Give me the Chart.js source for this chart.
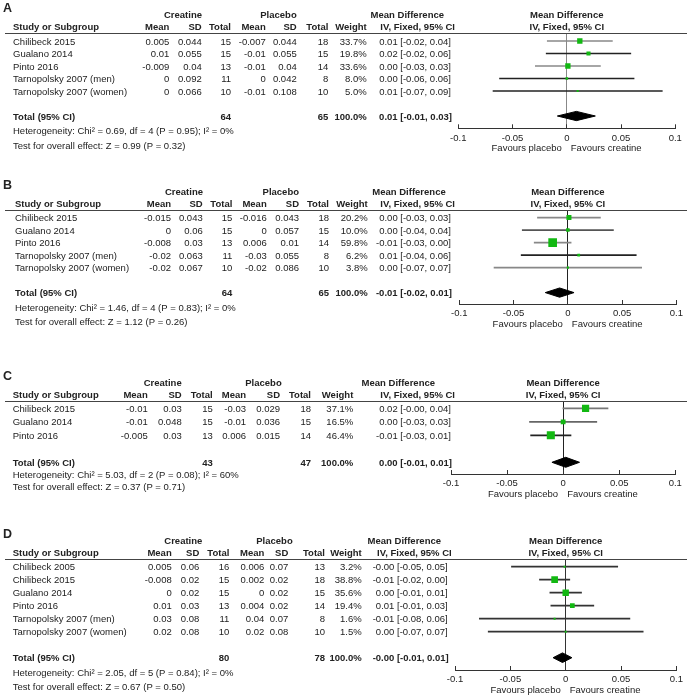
<!DOCTYPE html>
<html>
<head>
<meta charset="utf-8">
<script src="https://cdn.jsdelivr.net/npm/chart.js@4.4.1/dist/chart.umd.min.js"></script>
<style>
    html, body { margin: 0; padding: 0; background: #fff; }
    #page { position: relative; width: 691px; height: 699px; overflow: hidden; background: #fff; }
    #page canvas { position: absolute; left: 0; }
</style>
</head>
<body>
<div id="page">
    <canvas id="panelA"></canvas>
    <canvas id="panelB"></canvas>
    <canvas id="panelC"></canvas>
    <canvas id="panelD"></canvas>
</div>
<script>
// ---- axis ----
const tickValues = [-0.1, -0.05, 0, 0.05, 0.1];
const tickLabels = ['-0.1', '-0.05', '0', '0.05', '0.1'];

// ---- panel A ----
const studiesA = ['Chilibeck 2015', 'Gualano 2014', 'Pinto 2016', 'Tarnopolsky 2007 (men)', 'Tarnopolsky 2007 (women)'];
const creMeanA = [0.005, 0.01, -0.009, 0, 0];
const creSdA = [0.044, 0.055, 0.04, 0.092, 0.066];
const creNA = [15, 15, 13, 11, 10];
const plMeanA = [-0.007, -0.01, -0.01, 0, -0.01];
const plSdA = [0.044, 0.055, 0.04, 0.042, 0.108];
const plNA = [18, 15, 14, 8, 10];
const weightA = [33.7, 19.8, 33.6, 8.0, 5.0];
const ciTextA = ['0.01 [-0.02, 0.04]', '0.02 [-0.02, 0.06]', '0.00 [-0.03, 0.03]', '0.00 [-0.06, 0.06]', '0.01 [-0.07, 0.09]'];
const mdA = [0.012, 0.02, 0.001, 0, 0.01];
const mdLowA = [-0.018, -0.019, -0.029, -0.062, -0.068];
const mdHighA = [0.042, 0.059, 0.031, 0.062, 0.088];
const totalNA = [64, 65];
const totalMdA = [0.0088, -0.0087, 0.0263];   // estimate, low, high
const totalTextA = '0.01 [-0.01, 0.03]';
const heteroA = 'Heterogeneity: Chi² = 0.69, df = 4 (P = 0.95); I² = 0%';
const overallA = 'Test for overall effect: Z = 0.99 (P = 0.32)';

// ---- panel B ----
const studiesB = ['Chilibeck 2015', 'Gualano 2014', 'Pinto 2016', 'Tarnopolsky 2007 (men)', 'Tarnopolsky 2007 (women)'];
const creMeanB = [-0.015, 0, -0.008, -0.02, -0.02];
const creSdB = [0.043, 0.06, 0.03, 0.063, 0.067];
const creNB = [15, 15, 13, 11, 10];
const plMeanB = [-0.016, 0, 0.006, -0.03, -0.02];
const plSdB = [0.043, 0.057, 0.01, 0.055, 0.086];
const plNB = [18, 15, 14, 8, 10];
const weightB = [20.2, 10.0, 59.8, 6.2, 3.8];
const ciTextB = ['0.00 [-0.03, 0.03]', '0.00 [-0.04, 0.04]', '-0.01 [-0.03, 0.00]', '0.01 [-0.04, 0.06]', '0.00 [-0.07, 0.07]'];
const mdB = [0.001, 0, -0.014, 0.01, 0];
const mdLowB = [-0.028, -0.042, -0.031, -0.043, -0.068];
const mdHighB = [0.030, 0.042, 0.003, 0.063, 0.068];
const totalNB = [64, 65];
const totalMdB = [-0.0076, -0.0208, 0.0057];
const totalTextB = '-0.01 [-0.02, 0.01]';
const heteroB = 'Heterogeneity: Chi² = 1.46, df = 4 (P = 0.83); I² = 0%';
const overallB = 'Test for overall effect: Z = 1.12 (P = 0.26)';

// ---- panel C ----
const studiesC = ['Chilibeck 2015', 'Gualano 2014', 'Pinto 2016'];
const creMeanC = [-0.01, -0.01, -0.005];
const creSdC = [0.03, 0.048, 0.03];
const creNC = [15, 15, 13];
const plMeanC = [-0.03, -0.01, 0.006];
const plSdC = [0.029, 0.036, 0.015];
const plNC = [18, 15, 14];
const weightC = [37.1, 16.5, 46.4];
const ciTextC = ['0.02 [-0.00, 0.04]', '0.00 [-0.03, 0.03]', '-0.01 [-0.03, 0.01]'];
const mdC = [0.02, 0, -0.011];
const mdLowC = [-0.0002, -0.030, -0.029];
const mdHighC = [0.040, 0.030, 0.007];
const totalNC = [43, 47];
const totalMdC = [0.0023, -0.0100, 0.0146];
const totalTextC = '0.00 [-0.01, 0.01]';
const heteroC = 'Heterogeneity: Chi² = 5.03, df = 2 (P = 0.08); I² = 60%';
const overallC = 'Test for overall effect: Z = 0.37 (P = 0.71)';

// ---- panel D ----
const studiesD = ['Chilibeck 2005', 'Chilibeck 2015', 'Gualano 2014', 'Pinto 2016', 'Tarnopolsky 2007 (men)', 'Tarnopolsky 2007 (women)'];
const creMeanD = [0.005, -0.008, 0, 0.01, 0.03, 0.02];
const creSdD = [0.06, 0.02, 0.02, 0.03, 0.08, 0.08];
const creND = [16, 15, 15, 13, 11, 10];
const plMeanD = [0.006, 0.002, 0, 0.004, 0.04, 0.02];
const plSdD = [0.07, 0.02, 0.02, 0.02, 0.07, 0.08];
const plND = [13, 18, 15, 14, 8, 10];
const weightD = [3.2, 38.8, 35.6, 19.4, 1.6, 1.5];
const ciTextD = ['-0.00 [-0.05, 0.05]', '-0.01 [-0.02, 0.00]', '0.00 [-0.01, 0.01]', '0.01 [-0.01, 0.03]', '-0.01 [-0.08, 0.06]', '0.00 [-0.07, 0.07]'];
const mdD = [-0.001, -0.01, 0, 0.006, -0.01, 0];
const mdLowD = [-0.049, -0.0237, -0.0143, -0.0134, -0.078, -0.070];
const mdHighD = [0.047, 0.0037, 0.0143, 0.0254, 0.058, 0.070];
const totalND = [80, 78];
const totalMdD = [-0.0029, -0.0114, 0.0056];
const totalTextD = '-0.00 [-0.01, 0.01]';
const heteroD = 'Heterogeneity: Chi² = 2.05, df = 5 (P = 0.84); I² = 0%';
const overallD = 'Test for overall effect: Z = 0.67 (P = 0.50)';

// ---- styles / layout ----
const FONT = "'Liberation Sans', Arial, sans-serif";
const TEXT = '#222';
const GREEN = '#12b812';
const AXIS_H = 22;
const DIAMOND_HALF = 0.37;

const panels = [
    {
        id: 'panelA', letter: 'A', top: 0, height: 160,
        left: 458.3, right: 675.3, underline: 33, axis: 128.3, row0: 41, rowH: 12.5,
        hetDy: 14, testDy: 29, sq: 0.92, zero: '#888',
        lineColors: ['#888', '#222', '#888', '#222', '#222'],
        cols: { study: 13, creMean: 169.3, creSd: 201.7, creN: 231, plMean: 265.7, plSd: 296.7, plN: 328.3, weight: 366.7, ci: 455, creHdr: 202, plHdr: 296.7, mdHdr: 444 },
        studies: studiesA, creMean: creMeanA, creSd: creSdA, creN: creNA, plMean: plMeanA, plSd: plSdA, plN: plNA,
        weight: weightA, ciText: ciTextA, md: mdA, lo: mdLowA, hi: mdHighA,
        totalN: totalNA, totalMd: totalMdA, totalText: totalTextA, hetero: heteroA, overall: overallA
    },
    {
        id: 'panelB', letter: 'B', top: 160, height: 180,
        left: 459.3, right: 678, underline: 210, axis: 304, row0: 217.6, rowH: 12.5,
        hetDy: 14.5, testDy: 28.5, sq: 1.12, zero: '#222',
        lineColors: ['#888', '#555', '#888', '#222', '#888'],
        cols: { study: 15, creMean: 171, creSd: 202.7, creN: 232.3, plMean: 266.7, plSd: 299, plN: 329, weight: 367.7, ci: 455, creHdr: 203, plHdr: 299, mdHdr: 445.7 },
        studies: studiesB, creMean: creMeanB, creSd: creSdB, creN: creNB, plMean: plMeanB, plSd: plSdB, plN: plNB,
        weight: weightB, ciText: ciTextB, md: mdB, lo: mdLowB, hi: mdHighB,
        totalN: totalNB, totalMd: totalMdB, totalText: totalTextB, hetero: heteroB, overall: overallB
    },
    {
        id: 'panelC', letter: 'C', top: 340, height: 160,
        left: 451, right: 675.3, underline: 401, axis: 474, row0: 408.3, rowH: 13.5,
        hetDy: 12, testDy: 24, sq: 1.18, zero: '#222',
        lineColors: ['#777', '#666', '#222'],
        cols: { study: 12.7, creMean: 147.7, creSd: 181.7, creN: 212.7, plMean: 246, plSd: 280, plN: 311, weight: 353.3, ci: 455, creHdr: 181.7, plHdr: 281.7, mdHdr: 435 },
        studies: studiesC, creMean: creMeanC, creSd: creSdC, creN: creNC, plMean: plMeanC, plSd: plSdC, plN: plNC,
        weight: weightC, ciText: ciTextC, md: mdC, lo: mdLowC, hi: mdHighC,
        totalN: totalNC, totalMd: totalMdC, totalText: totalTextC, hetero: heteroC, overall: overallC
    },
    {
        id: 'panelD', letter: 'D', top: 500, height: 199,
        left: 455, right: 680, underline: 559, axis: 670, row0: 566.7, rowH: 13,
        hetDy: 15, testDy: 28.5, sq: 1.07, zero: '#333',
        lineColors: ['#333', '#333', '#333', '#333', '#333', '#333'],
        cols: { study: 12.7, creMean: 171.7, creSd: 199.3, creN: 229.3, plMean: 264.3, plSd: 288.3, plN: 325, weight: 361.7, ci: 451.7, creHdr: 202.3, plHdr: 292.7, mdHdr: 441 },
        studies: studiesD, creMean: creMeanD, creSd: creSdD, creN: creND, plMean: plMeanD, plSd: plSdD, plN: plND,
        weight: weightD, ciText: ciTextD, md: mdD, lo: mdLowD, hi: mdHighD,
        totalN: totalND, totalMd: totalMdD, totalText: totalTextD, hetero: heteroD, overall: overallD
    }
];

function put(ctx, s, x, y, align, bold, size) {
    ctx.font = (bold ? 'bold ' : '') + (size || 9.5) + 'px ' + FONT;
    ctx.textAlign = align;
    ctx.fillText(s, x, y);
}

// table text drawn next to the forest plot
function tablePlugin(p) {
    return {
        id: 'forestTable',
        afterDraw(chart) {
            const ctx = chart.ctx;
            const xs = chart.scales.x, ys = chart.scales.y;
            const c = p.cols;
            const n = p.studies.length;
            const u = p.underline - p.top;
            ctx.save();
            ctx.fillStyle = TEXT;
            ctx.textBaseline = 'middle';

            put(ctx, p.letter, 3, u - 24.5, 'left', true, 12.5);

            const h1 = u - 18, h2 = u - 6;
            put(ctx, 'Creatine', c.creHdr, h1, 'right', true);
            put(ctx, 'Placebo', c.plHdr, h1, 'right', true);
            put(ctx, 'Mean Difference', c.mdHdr, h1, 'right', true);
            put(ctx, 'Study or Subgroup', c.study, h2, 'left', true);
            put(ctx, 'Mean', c.creMean, h2, 'right', true);
            put(ctx, 'SD', c.creSd, h2, 'right', true);
            put(ctx, 'Total', c.creN, h2, 'right', true);
            put(ctx, 'Mean', c.plMean, h2, 'right', true);
            put(ctx, 'SD', c.plSd, h2, 'right', true);
            put(ctx, 'Total', c.plN, h2, 'right', true);
            put(ctx, 'Weight', c.weight, h2, 'right', true);
            put(ctx, 'IV, Fixed, 95% CI', c.ci, h2, 'right', true);

            const x0 = xs.getPixelForValue(0);
            put(ctx, 'Mean Difference', x0, h1, 'center', true);
            put(ctx, 'IV, Fixed, 95% CI', x0, h2, 'center', true);

            ctx.strokeStyle = '#444';
            ctx.lineWidth = 1;
            ctx.beginPath();
            ctx.moveTo(5, Math.round(u) + 0.5);
            ctx.lineTo(687, Math.round(u) + 0.5);
            ctx.stroke();

            p.studies.forEach((s, i) => {
                const y = ys.getPixelForValue(i) + 1;
                put(ctx, s, c.study, y, 'left');
                put(ctx, String(p.creMean[i]), c.creMean, y, 'right');
                put(ctx, String(p.creSd[i]), c.creSd, y, 'right');
                put(ctx, String(p.creN[i]), c.creN, y, 'right');
                put(ctx, String(p.plMean[i]), c.plMean, y, 'right');
                put(ctx, String(p.plSd[i]), c.plSd, y, 'right');
                put(ctx, String(p.plN[i]), c.plN, y, 'right');
                put(ctx, p.weight[i].toFixed(1) + '%', c.weight, y, 'right');
                put(ctx, p.ciText[i], c.ci - 4, y, 'right');
            });

            const yt = ys.getPixelForValue(n + 1) + 1;
            put(ctx, 'Total (95% CI)', c.study, yt, 'left', true);
            put(ctx, String(p.totalN[0]), c.creN, yt, 'right', true);
            put(ctx, String(p.totalN[1]), c.plN, yt, 'right', true);
            put(ctx, '100.0%', c.weight, yt, 'right', true);
            put(ctx, p.totalText, c.ci - 3, yt, 'right', true);
            put(ctx, p.hetero, c.study, yt + p.hetDy, 'left');
            put(ctx, p.overall, c.study, yt + p.testDy, 'left');

            const yf = xs.top + 20;
            put(ctx, 'Favours placebo', x0 - 5, yf, 'right');
            put(ctx, 'Favours creatine', x0 + 4, yf, 'left');
            ctx.restore();
        }
    };
}

function makePanel(p) {
    const canvas = document.getElementById(p.id);
    canvas.width = 691;
    canvas.height = p.height;
    canvas.style.top = p.top + 'px';

    const n = p.studies.length;
    const rows = p.studies.map((s, i) => i);
    const totalRow = n + 1;
    const [tEst, tLo, tHi] = p.totalMd;
    // row index range that covers the plot area (underline .. axis)
    const yMin = (p.underline - p.row0) / p.rowH;
    const yMax = (p.axis - p.row0) / p.rowH;

    new Chart(canvas, {
        type: 'scatter',
        data: {
            datasets: [
                {
                    // confidence intervals
                    type: 'bar',
                    indexAxis: 'y',
                    data: rows.map(i => ({ x: [p.lo[i], p.hi[i]], y: i })),
                    backgroundColor: p.lineColors,
                    borderWidth: 0,
                    barThickness: 1,
                    order: 3
                },
                {
                    // study estimates, square size from weight
                    type: 'scatter',
                    data: rows.map(i => ({ x: p.md[i], y: i })),
                    pointStyle: 'rect',
                    pointRadius: p.weight.map(w => Math.max(2, p.sq * Math.sqrt(w)) / Math.SQRT2),
                    backgroundColor: GREEN,
                    borderWidth: 0,
                    order: 2
                },
                {
                    // pooled diamond
                    type: 'line',
                    data: [
                        { x: tLo, y: totalRow },
                        { x: tEst, y: totalRow - DIAMOND_HALF },
                        { x: tHi, y: totalRow },
                        { x: tEst, y: totalRow + DIAMOND_HALF },
                        { x: tLo, y: totalRow }
                    ],
                    borderColor: '#000',
                    backgroundColor: '#000',
                    borderWidth: 1,
                    pointRadius: 0,
                    tension: 0,
                    fill: 'shape',
                    order: 1
                }
            ]
        },
        options: {
            responsive: false,
            animation: false,
            events: [],
            layout: {
                padding: {
                    left: p.left,
                    right: 691 - p.right,
                    top: p.underline - p.top,
                    bottom: p.top + p.height - p.axis - AXIS_H
                }
            },
            plugins: {
                legend: { display: false },
                tooltip: { enabled: false }
            },
            scales: {
                x: {
                    type: 'linear',
                    min: -0.1,
                    max: 0.1,
                    offset: false,
                    afterBuildTicks: s => { s.ticks = tickValues.map(v => ({ value: v })); },
                    afterFit: s => { s.height = AXIS_H; },
                    ticks: {
                        callback: (v, i) => tickLabels[i],
                        font: { family: FONT, size: 9.5 },
                        color: TEXT,
                        padding: 8,
                        maxRotation: 0,
                        autoSkip: false
                    },
                    grid: {
                        offset: false,
                        drawOnChartArea: true,
                        color: ctx => (ctx.tick && ctx.tick.value === 0) ? p.zero : 'rgba(0,0,0,0)',
                        tickColor: '#333',
                        tickLength: -4,
                        lineWidth: 1
                    },
                    border: { display: true, color: '#333', width: 1 }
                },
                y: {
                    type: 'linear',
                    display: false,
                    reverse: true,
                    offset: false,
                    grid: { offset: false },
                    min: yMin,
                    max: yMax
                }
            }
        },
        plugins: [tablePlugin(p)]
    });
}

panels.forEach(makePanel);
</script>
</body>
</html>
